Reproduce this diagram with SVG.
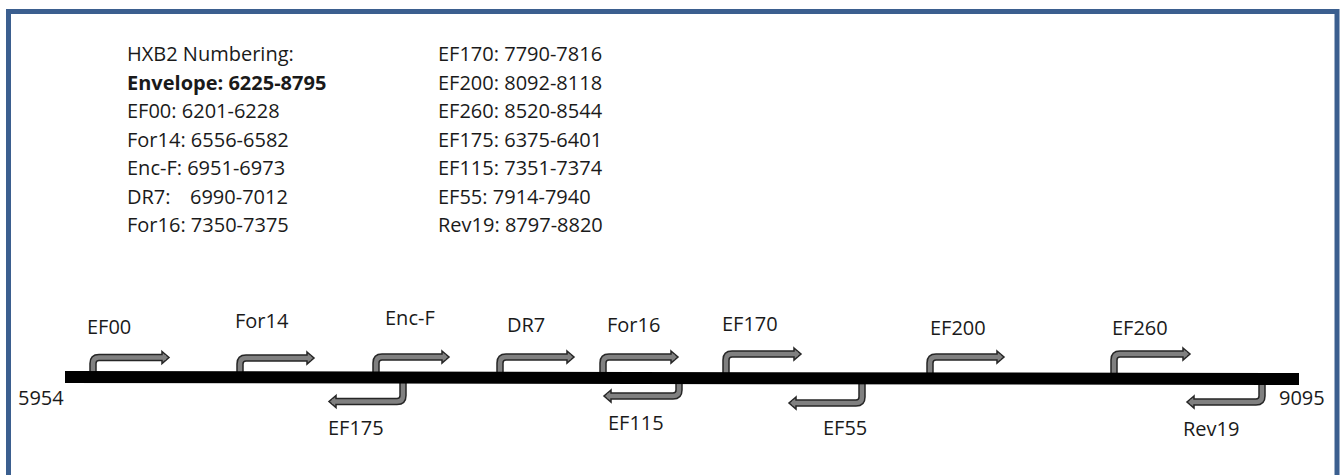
<svg xmlns="http://www.w3.org/2000/svg" width="1344" height="475" viewBox="0 0 1344 475">
<style>
text{font-family:"Open Sans","Liberation Sans",sans-serif;font-size:20px;fill:#1a1a1a}
.b{font-weight:bold}
.ao{fill:none;stroke:#262626;stroke-width:7.5}
.ai{fill:none;stroke:#808080;stroke-width:4.5}
.ah{fill:#808080;stroke:#262626;stroke-width:1.5;stroke-linejoin:miter}
</style>
<rect x="0" y="0" width="1344" height="475" fill="#ffffff"/>
<rect id="frame" x="8.5" y="11.5" width="1328.5" height="520" fill="none" stroke="#3B5F8F" stroke-width="5"/>
<g id="legend">
<text x="127" y="61">HXB2 Numbering:</text>
<text x="127" y="90" class="b">Envelope: 6225-8795</text>
<text x="127" y="118">EF00: 6201-6228</text>
<text x="127" y="147">For14: 6556-6582</text>
<text x="127" y="175">Enc-F: 6951-6973</text>
<text x="127" y="204">DR7:<tspan x="190">6990-7012</tspan></text>
<text x="127" y="232">For16: 7350-7375</text>
<text x="438" y="61">EF170: 7790-7816</text>
<text x="438" y="90">EF200: 8092-8118</text>
<text x="438" y="118">EF260: 8520-8544</text>
<text x="438" y="147">EF175: 6375-6401</text>
<text x="438" y="175">EF115: 7351-7374</text>
<text x="438" y="204">EF55: 7914-7940</text>
<text x="438" y="232">Rev19: 8797-8820</text>
</g>
<g id="connectors">
<g id="EF00">
<path class="ao" d="M93 374 V363.5 Q93 357.5 99 357.5 H163"/><polygon class="ah" points="162,351.5 169,357.5 162,363.5"/><path class="ai" d="M93 374 V363.5 Q93 357.5 99 357.5 H166"/>
<text x="87" y="334">EF00</text></g>
<g id="For14">
<path class="ao" d="M240 374 V364 Q240 358 246 358 H308"/><polygon class="ah" points="307,352 314,358 307,364"/><path class="ai" d="M240 374 V364 Q240 358 246 358 H311"/>
<text x="235" y="328">For14</text></g>
<g id="Enc-F">
<path class="ao" d="M376 374 V363 Q376 357 382 357 H443"/><polygon class="ah" points="442,351 449,357 442,363"/><path class="ai" d="M376 374 V363 Q376 357 382 357 H446"/>
<text x="385" y="325">Enc-F</text></g>
<g id="DR7">
<path class="ao" d="M500 374 V363 Q500 357 506 357 H568"/><polygon class="ah" points="567,351 574,357 567,363"/><path class="ai" d="M500 374 V363 Q500 357 506 357 H571"/>
<text x="507" y="332">DR7</text></g>
<g id="For16">
<path class="ao" d="M603 374 V363 Q603 357 609 357 H672"/><polygon class="ah" points="671,351 678,357 671,363"/><path class="ai" d="M603 374 V363 Q603 357 609 357 H675"/>
<text x="607" y="332">For16</text></g>
<g id="EF170">
<path class="ao" d="M726 374 V360 Q726 354 732 354 H795"/><polygon class="ah" points="794,348 801,354 794,360"/><path class="ai" d="M726 374 V360 Q726 354 732 354 H798"/>
<text x="722" y="331">EF170</text></g>
<g id="EF200">
<path class="ao" d="M930 375 V363 Q930 357 936 357 H998"/><polygon class="ah" points="997,351 1004,357 997,363"/><path class="ai" d="M930 375 V363 Q930 357 936 357 H1001"/>
<text x="930" y="335">EF200</text></g>
<g id="EF260">
<path class="ao" d="M1114 375 V360 Q1114 354 1120 354 H1184"/><polygon class="ah" points="1183,348 1190,354 1183,360"/><path class="ai" d="M1114 375 V360 Q1114 354 1120 354 H1187"/>
<text x="1112" y="335">EF260</text></g>
<g id="EF175">
<path class="ao" d="M403 380 V395.5 Q403 401.5 397 401.5 H335"/><polygon class="ah" points="336,395.5 329,401.5 336,407.5"/><path class="ai" d="M403 380 V395.5 Q403 401.5 397 401.5 H332"/>
<text x="328" y="435">EF175</text></g>
<g id="EF115">
<path class="ao" d="M679 380 V390 Q679 396 673 396 H610"/><polygon class="ah" points="611,390 604,396 611,402"/><path class="ai" d="M679 380 V390 Q679 396 673 396 H607"/>
<text x="608" y="430">EF115</text></g>
<g id="EF55">
<path class="ao" d="M862 381 V397 Q862 403 856 403 H795"/><polygon class="ah" points="796,397 789,403 796,409"/><path class="ai" d="M862 381 V397 Q862 403 856 403 H792"/>
<text x="823" y="435">EF55</text></g>
<g id="Rev19">
<path class="ao" d="M1262 382 V396 Q1262 402 1256 402 H1193"/><polygon class="ah" points="1194,396 1187,402 1194,408"/><path class="ai" d="M1262 382 V396 Q1262 402 1256 402 H1190"/>
<text x="1183" y="436">Rev19</text></g>
</g>
<g id="bar">
<polygon points="65,371 1299,373 1299,385 65,383" fill="#000000"/>
<text x="18" y="405">5954</text>
<text x="1279" y="405">9095</text>
</g>
</svg>
